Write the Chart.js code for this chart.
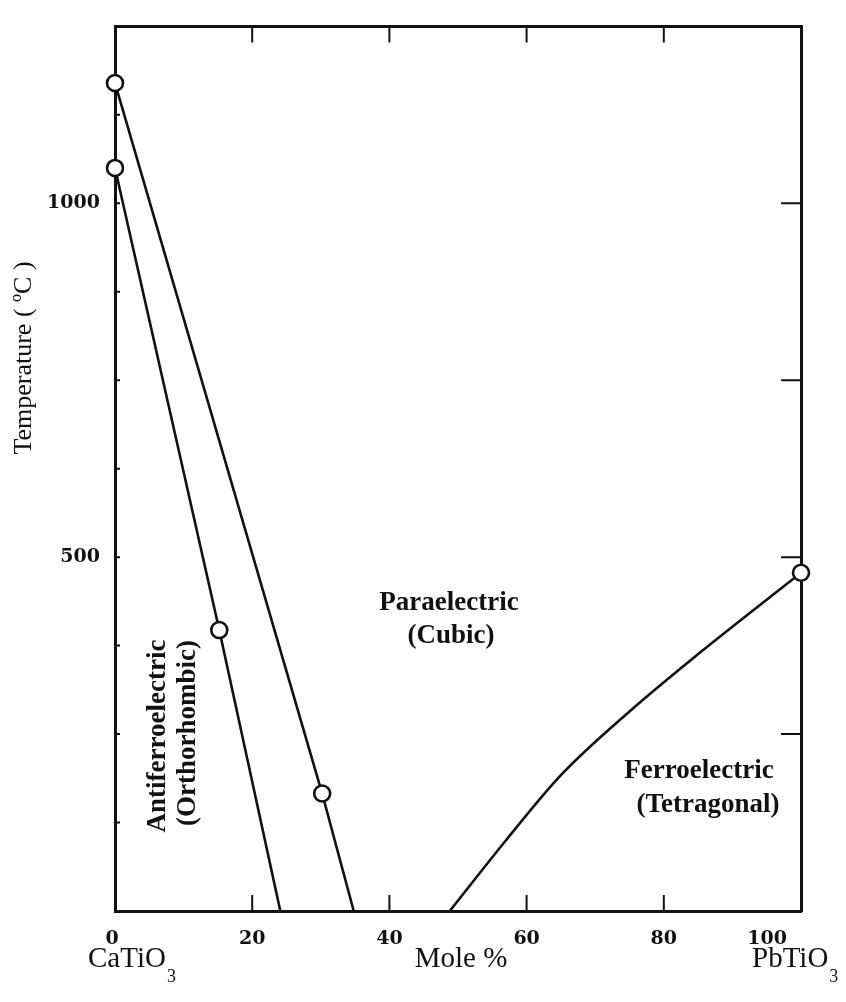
<!DOCTYPE html>
<html>
<head>
<meta charset="utf-8">
<script src="https://cdn.jsdelivr.net/npm/chart.js@4.4.1/dist/chart.umd.min.js"></script>
<style>
  html, body { margin: 0; padding: 0; background: #fff; }
  canvas { display: block; }
</style>
</head>
<body>
<canvas id="phase" width="846" height="1002"></canvas>
<script>
// CaTiO3 - PbTiO3 phase diagram
const antiX = [0, 15.2, 24.1];
const antiT = [1050, 397, 0];
const cubicX = [0, 30.2, 34.8];
const cubicT = [1170, 166, 0];
const ferroX = [48.8, 57, 65, 75, 85, 100];
const ferroT = [0, 100, 192, 282, 363, 478];
const markerX = [0, 0, 15.2, 30.2, 100];
const markerT = [1170, 1050, 397, 166, 478];

const xTickValues = [0, 20, 40, 60, 80, 100];
const yLabelValues = [500, 1000];
const yRightTicks = [250, 500, 750, 1000];

const ink = '#111';
const serif = '"Liberation Serif", "Times New Roman", serif';
const tickFont = 'bold 19px "DejaVu Serif", serif';

function pts(xs, ys) {
  return xs.map((x, i) => ({ x: x, y: ys[i] }));
}

function lineSet(xs, ys, smooth) {
  return {
    data: pts(xs, ys),
    showLine: true,
    borderColor: ink,
    borderWidth: 2.6,
    pointRadius: 0,
    tension: smooth ? 0.4 : 0,
    cubicInterpolationMode: smooth ? 'monotone' : 'default',
    clip: false,
    order: 1
  };
}

// inward ticks, tick labels and all the text on the figure
const annotate = {
  id: 'annotate',
  afterDraw(chart) {
    const c = chart.ctx;
    const a = chart.chartArea;
    const xs = chart.scales.x;
    const ys = chart.scales.y;

    c.save();
    c.strokeStyle = ink;
    c.lineWidth = 2;
    c.beginPath();
    [20, 40, 60, 80].forEach(v => {
      const px = xs.getPixelForValue(v);
      c.moveTo(px, a.bottom); c.lineTo(px, a.bottom - 16);
      c.moveTo(px, a.top); c.lineTo(px, a.top + 16);
    });
    yRightTicks.forEach(v => {
      const py = ys.getPixelForValue(v);
      c.moveTo(a.right, py); c.lineTo(a.right - 20, py);
    });
    for (let v = 125; v < 1250; v += 125) {
      const py = ys.getPixelForValue(v);
      c.moveTo(a.left, py); c.lineTo(a.left + 5, py);
    }
    c.stroke();

    c.fillStyle = ink;
    c.font = tickFont;
    c.textBaseline = 'middle';
    xTickValues.forEach(v => {
      let px = xs.getPixelForValue(v);
      c.textAlign = 'center';
      if (v === 0) px -= 3;
      if (v === 100) { c.textAlign = 'right'; px -= 14; }
      c.fillText(String(v), px, 939);
    });

    // axis titles
    c.textBaseline = 'alphabetic';
    c.font = '29px ' + serif;
    c.textAlign = 'center';
    c.fillText('Mole %', 461, 967);

    function formula(base, left) {
      c.font = '29px ' + serif;
      c.textAlign = 'left';
      c.fillText(base, left, 967);
      const w = c.measureText(base).width;
      c.font = '18px ' + serif;
      c.fillText('3', left + w + 1, 982);
    }
    formula('CaTiO', 88);
    formula('PbTiO', 752);

    c.save();
    c.translate(24, 358);
    c.rotate(-Math.PI / 2);
    c.font = '26px ' + serif;
    c.textAlign = 'center';
    c.textBaseline = 'middle';
    c.fillText('Temperature ( \u00baC )', 0, 0);
    c.restore();

    // phase regions
    c.font = 'bold 27px ' + serif;
    c.textAlign = 'center';
    c.textBaseline = 'middle';
    c.fillText('Paraelectric', 449, 603);
    c.fillText('(Cubic)', 451, 636);
    c.fillText('Ferroelectric', 699, 771);
    c.fillText('(Tetragonal)', 708, 805);

    c.save();
    c.translate(158, 736);
    c.rotate(-Math.PI / 2);
    c.fillText('Antiferroelectric', 0, 0);
    c.restore();
    c.save();
    c.translate(188, 733);
    c.rotate(-Math.PI / 2);
    c.fillText('(Orthorhombic)', 0, 0);
    c.restore();

    c.restore();
  }
};

const frame = { display: true, color: ink, width: 3 };

new Chart(document.getElementById('phase'), {
  type: 'scatter',
  data: {
    datasets: [
      {
        data: pts(markerX, markerT),
        showLine: false,
        pointStyle: 'circle',
        pointRadius: 8,
        pointBorderWidth: 2.6,
        pointBackgroundColor: '#fff',
        pointBorderColor: ink,
        clip: false,
        order: 0
      },
      lineSet(antiX, antiT, false),
      lineSet(cubicX, cubicT, false),
      lineSet(ferroX, ferroT, true)
    ]
  },
  options: {
    responsive: false,
    animation: false,
    events: [],
    layout: { padding: 0 },
    plugins: {
      legend: { display: false },
      tooltip: { enabled: false }
    },
    scales: {
      x: {
        type: 'linear',
        position: 'bottom',
        min: 0,
        max: 100,
        grid: { display: false, drawTicks: false },
        border: frame,
        ticks: { display: false, stepSize: 20 },
        afterFit(s) { s.height = 91; }
      },
      xTop: {
        type: 'linear',
        position: 'top',
        min: 0,
        max: 100,
        grid: { display: false, drawTicks: false },
        border: frame,
        ticks: { display: false },
        afterFit(s) { s.height = 15; }
      },
      y: {
        type: 'linear',
        position: 'left',
        min: 0,
        max: 1250,
        grid: { display: false, drawTicks: false },
        border: frame,
        ticks: {
          stepSize: 125,
          autoSkip: false,
          padding: 15,
          color: ink,
          font: { family: '"DejaVu Serif", serif', weight: 'bold', size: 19 },
          callback: v => yLabelValues.includes(v) ? String(v) : ''
        },
        afterFit(s) { s.width = 115; }
      },
      yRight: {
        type: 'linear',
        position: 'right',
        min: 0,
        max: 1250,
        grid: { display: false, drawTicks: false },
        border: frame,
        ticks: { display: false },
        afterFit(s) { s.width = 45; }
      }
    }
  },
  plugins: [annotate]
});
</script>
</body>
</html>
